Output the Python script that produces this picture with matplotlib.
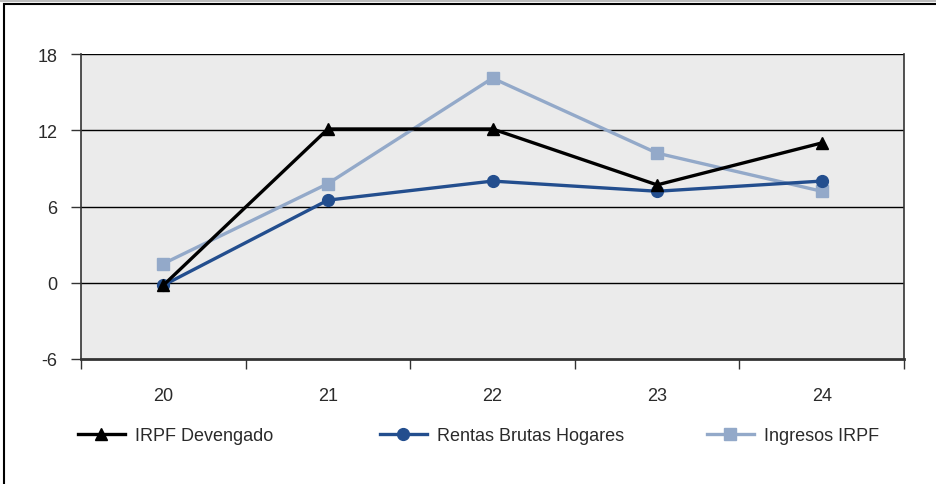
import matplotlib
matplotlib.use("Agg")
import matplotlib.pyplot as plt
from matplotlib.patches import Rectangle

categories = ["20", "21", "22", "23", "24"]
irpf_devengado = [-0.2, 12.1, 12.1, 7.7, 11.0]
rentas_brutas = [-0.2, 6.5, 8.0, 7.2, 8.0]
ingresos_irpf = [1.5, 7.8, 16.1, 10.2, 7.2]
yticks = [-6, 0, 6, 12, 18]

plt.rcParams['font.family'] = ['Liberation Sans', 'DejaVu Sans']
txt = '#2a2a2a'
fs = 13

fig = plt.figure(figsize=(9.36, 4.85), dpi=100)
ax = fig.add_axes([81/936, 1-360/485, (904-81)/936, (360-55)/485])
ax.set_facecolor('#EBEBEB')

x = list(range(len(categories)))
l1, = ax.plot(x, irpf_devengado, color='black', lw=2.4, marker='^', ms=9, label='IRPF Devengado', zorder=5)
l2, = ax.plot(x, rentas_brutas, color='#234E8E', lw=2.4, marker='o', ms=8.5, label='Rentas Brutas Hogares', zorder=4)
l3, = ax.plot(x, ingresos_irpf, color='#93A9C9', lw=2.4, marker='s', ms=8, label='Ingresos IRPF', zorder=3)

ax.set_xlim(-0.5, 4.5)
ax.set_ylim(-6, 18)
ax.set_yticks(yticks)
ax.set_yticklabels([str(v) for v in yticks], fontsize=fs, color=txt)
for v in yticks[1:]:
    ax.axhline(v, color='black', lw=1.0, zorder=1)

ax.set_xticks([i - 0.5 for i in range(len(categories) + 1)])
ax.set_xticklabels([])
ax.set_xticks(x, minor=True)
ax.set_xticklabels(categories, minor=True, fontsize=fs, color=txt)
ax.tick_params(axis='x', which='major', length=7, width=1, color='#333333', direction='out')
ax.tick_params(axis='x', which='minor', length=0, pad=20)
ax.tick_params(axis='y', length=7, width=1, color='#333333', pad=10)

for s in ['left', 'bottom', 'right']:
    ax.spines[s].set_color('#333333')
    ax.spines[s].set_linewidth(1.2)
ax.spines['bottom'].set_linewidth(2)
ax.spines['top'].set_visible(False)

positions = [(78/936, 437), (380/936, 437), (707/936, 437)]
for h, (px, py) in zip([l1, l2, l3], positions):
    leg = fig.legend(handles=[h], loc='center left', bbox_to_anchor=(px, 1-py/485),
                     frameon=False, fontsize=fs, handlelength=2.6, handletextpad=0.55,
                     borderaxespad=0, borderpad=0)
    for t in leg.get_texts():
        t.set_color(txt)

fig.patches.append(Rectangle((0, 1 - 1.5/485), 1.0, 0.0, transform=fig.transFigure,
                             fill=False, edgecolor='#bbbbbb', lw=1.5))
fig.patches.append(Rectangle((4/936, -0.02), 1.0, 1 - 5/485 + 0.02, transform=fig.transFigure,
                             fill=False, edgecolor='black', lw=1.5))

fig.savefig('out.png', dpi=100)
